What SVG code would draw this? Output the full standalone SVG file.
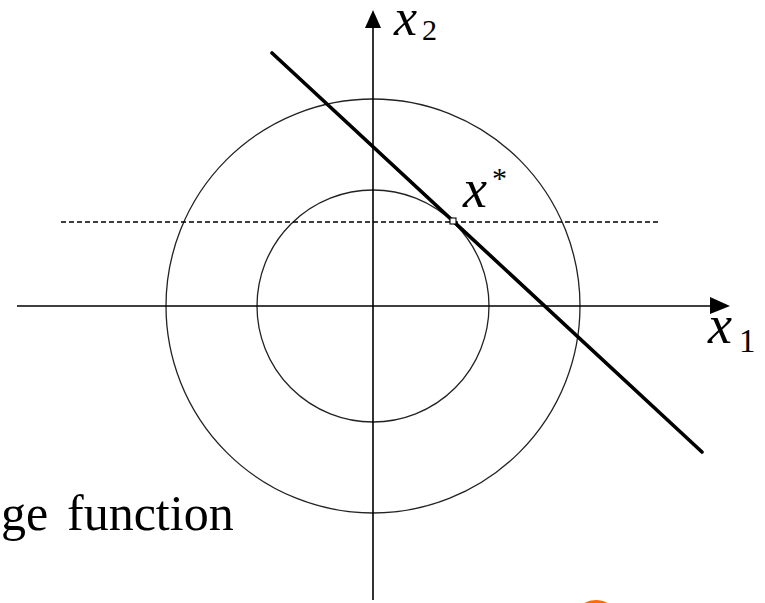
<svg xmlns="http://www.w3.org/2000/svg" width="765" height="603" viewBox="0 0 765 603">
<style>
.ax{stroke:#000;stroke-width:1.6;fill:none}
.circ{stroke:#222;stroke-width:1.3;fill:none}
text{fill:#000}
</style>
<rect width="765" height="603" fill="#fff"/>
<g id="contours">
<circle class="circ" cx="373" cy="306" r="207"/>
<circle class="circ" cx="373" cy="306" r="116"/>
</g>
<g id="connectors">
<line class="ax" x1="17" y1="306" x2="712" y2="306"/>
<polygon points="710,297 730,306 710,314" fill="#000"/>
<line class="ax" x1="373" y1="600" x2="373" y2="26"/>
<polygon points="365,28 373,10 381,28" fill="#000"/>
<line x1="61" y1="222" x2="661" y2="222" stroke="#000" stroke-width="1.3" stroke-dasharray="5,3"/>
<line x1="272" y1="53" x2="702" y2="452" stroke="#000" stroke-width="3.6" stroke-linecap="round"/>
</g>
<g id="xstar" font-family="Liberation Serif, serif">
<rect x="450" y="218" width="6" height="6" fill="#fff" stroke="#000" stroke-width="1.1"/>
<text x="463" y="207" font-size="54" font-style="italic">x</text>
<text x="492" y="188" font-size="30">*</text>
</g>
<g id="label-x2" font-family="Liberation Serif, serif">
<text x="394" y="35" font-size="52" font-style="italic">x</text>
<text x="422" y="40" font-size="30">2</text>
</g>
<g id="label-x1" font-family="Liberation Serif, serif">
<text x="708" y="343" font-size="54" font-style="italic">x</text>
<text x="739" y="352" font-size="33">1</text>
</g>
<g id="caption" font-family="Liberation Serif, serif">
<text x="1" y="530" font-size="50">ge<tspan x="67">function</tspan></text>
</g>
<g id="orange-mark">
<ellipse cx="596" cy="624" rx="22" ry="22" fill="none" stroke="#FF6A00" stroke-width="4"/>
</g>
</svg>
